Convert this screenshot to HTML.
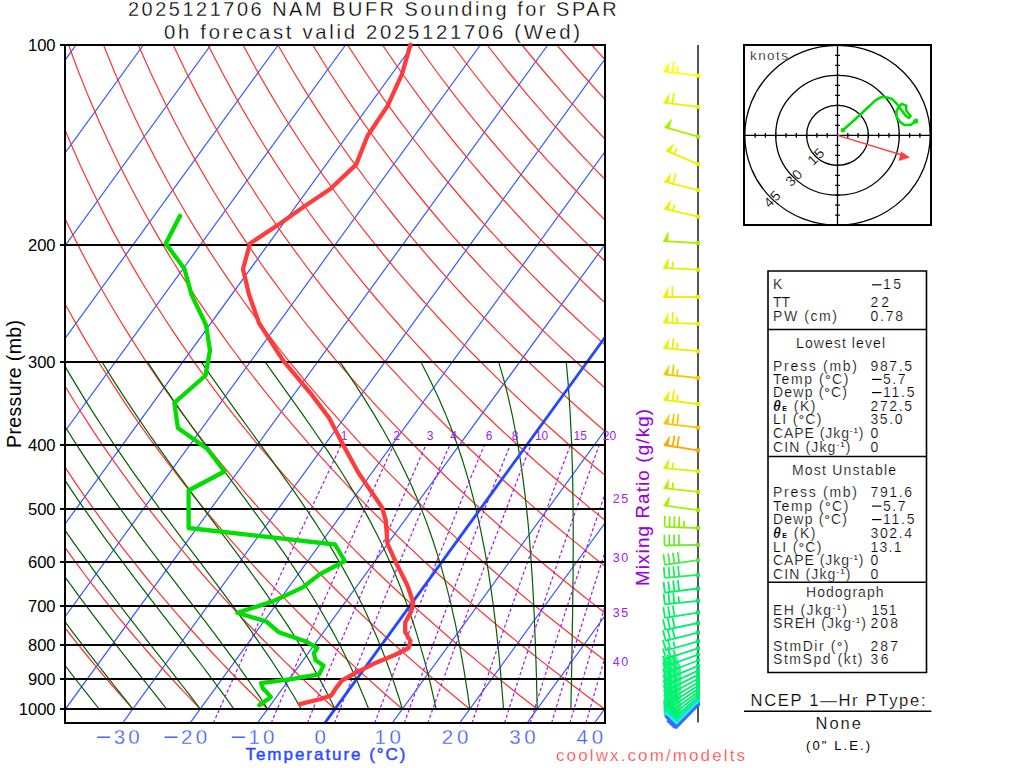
<!DOCTYPE html>
<html><head><meta charset="utf-8"><style>html,body{margin:0;padding:0;background:#fff;width:1024px;height:768px;overflow:hidden}svg{display:block}text{font-family:"Liberation Sans",sans-serif}</style></head>
<body><svg width="1024" height="768" viewBox="0 0 1024 768">
<rect width="1024" height="768" fill="#fff"/>
<defs><clipPath id="cb"><rect x="65" y="45" width="540" height="678"/></clipPath></defs>
<g clip-path="url(#cb)" fill="none">
<path d="M-416.6,723.1L76,45M-349.2,723.1L143.4,45M-281.8,723.1L210.8,45M-214.4,723.1L278.2,45M-147,723.1L345.6,45M-79.6,723.1L413,45M-12.2,723.1L480.4,45M55.2,723.1L547.8,45M122.6,723.1L615.2,45M190,723.1L682.6,45M257.4,723.1L750,45M324.8,723.1L817.4,45M392.2,723.1L884.8,45M459.6,723.1L952.2,45M527,723.1L1019.6,45M594.4,723.1L1087,45" stroke="#3658ff" stroke-width="1.2"/>
<path d="M132.8,709 126.3,701.7 119.7,694.2 113,686.5 106.2,678.6 99.3,670.5 92.4,662.1 85.3,653.5 78.2,644.6 70.9,635.5 63.6,626 56.1,616.3 48.5,606.1 40.8,595.7 33,584.8 25.1,573.5 17,561.7 8.8,549.4 0.4,536.6 -8.1,523.2 -16.8,509.1 -25.6,494.3 -34.6,478.7 -43.8,462.2 -53.2,444.8 -62.7,426.2 -72.4,406.3 -82.4,384.9 -92.5,361.8 -96.6,352 -100.8,341.9 -104.9,331.4 -109.1,320.5 -113.3,309.2 -117.6,297.5 -121.9,285.2 -126.1,272.4 -130.4,259 -134.8,244.9 -139.1,230.1 -143.4,214.5 -147.7,198 -152,180.5 -156.2,161.9 -160.4,142 -164.4,120.7 -168.3,97.6 -172.1,72.5 -175.6,45 M200.2,709 193.2,701.7 186.1,694.2 178.9,686.5 171.6,678.6 164.2,670.5 156.7,662.1 149.1,653.5 141.4,644.6 133.6,635.5 125.7,626 117.6,616.3 109.4,606.1 101.1,595.7 92.6,584.8 84,573.5 75.2,561.7 66.3,549.4 57.2,536.6 47.9,523.2 38.5,509.1 28.9,494.3 19,478.7 9,462.2 -1.3,444.8 -11.8,426.2 -22.5,406.3 -33.5,384.9 -44.8,361.8 -49.3,352 -53.9,341.9 -58.6,331.4 -63.3,320.5 -68,309.2 -72.8,297.5 -77.6,285.2 -82.4,272.4 -87.3,259 -92.2,244.9 -97.2,230.1 -102.1,214.5 -107.1,198 -112.1,180.5 -117,161.9 -122,142 -126.8,120.7 -131.6,97.6 -136.2,72.5 -140.7,45 M267.6,709 260.1,701.7 252.5,694.2 244.8,686.5 237,678.6 229.1,670.5 221.1,662.1 212.9,653.5 204.7,644.6 196.3,635.5 187.7,626 179.1,616.3 170.3,606.1 161.3,595.7 152.2,584.8 142.9,573.5 133.5,561.7 123.8,549.4 114,536.6 104,523.2 93.8,509.1 83.3,494.3 72.6,478.7 61.7,462.2 50.6,444.8 39.1,426.2 27.4,406.3 15.3,384.9 3,361.8 -2,352 -7.1,341.9 -12.2,331.4 -17.4,320.5 -22.7,309.2 -28,297.5 -33.3,285.2 -38.7,272.4 -44.2,259 -49.7,244.9 -55.3,230.1 -60.9,214.5 -66.5,198 -72.2,180.5 -77.9,161.9 -83.6,142 -89.2,120.7 -94.9,97.6 -100.4,72.5 -105.8,45 M335,709 327,701.7 318.9,694.2 310.7,686.5 302.4,678.6 294,670.5 285.4,662.1 276.7,653.5 267.9,644.6 258.9,635.5 249.8,626 240.5,616.3 231.1,606.1 221.5,595.7 211.8,584.8 201.8,573.5 191.7,561.7 181.4,549.4 170.8,536.6 160,523.2 149,509.1 137.8,494.3 126.3,478.7 114.5,462.2 102.4,444.8 90,426.2 77.3,406.3 64.2,384.9 50.8,361.8 45.3,352 39.7,341.9 34.1,331.4 28.4,320.5 22.7,309.2 16.8,297.5 10.9,285.2 5,272.4 -1.1,259 -7.2,244.9 -13.4,230.1 -19.6,214.5 -25.9,198 -32.3,180.5 -38.7,161.9 -45.1,142 -51.6,120.7 -58.1,97.6 -64.6,72.5 -70.9,45 M402.4,709 393.9,701.7 385.3,694.2 376.6,686.5 367.8,678.6 358.8,670.5 349.7,662.1 340.5,653.5 331.1,644.6 321.6,635.5 311.9,626 302,616.3 292,606.1 281.8,595.7 271.4,584.8 260.7,573.5 249.9,561.7 238.9,549.4 227.6,536.6 216.1,523.2 204.3,509.1 192.3,494.3 179.9,478.7 167.3,462.2 154.3,444.8 140.9,426.2 127.2,406.3 113.1,384.9 98.5,361.8 92.6,352 86.5,341.9 80.4,331.4 74.3,320.5 68,309.2 61.6,297.5 55.2,285.2 48.7,272.4 42.1,259 35.4,244.9 28.6,230.1 21.7,214.5 14.7,198 7.6,180.5 0.5,161.9 -6.7,142 -14,120.7 -21.4,97.6 -28.7,72.5 -36,45 M469.8,709 460.8,701.7 451.8,694.2 442.6,686.5 433.2,678.6 423.7,670.5 414.1,662.1 404.3,653.5 394.4,644.6 384.2,635.5 374,626 363.5,616.3 352.8,606.1 342,595.7 330.9,584.8 319.7,573.5 308.2,561.7 296.4,549.4 284.4,536.6 272.2,523.2 259.6,509.1 246.7,494.3 233.6,478.7 220,462.2 206.1,444.8 191.8,426.2 177.1,406.3 161.9,384.9 146.3,361.8 139.9,352 133.4,341.9 126.8,331.4 120.1,320.5 113.3,309.2 106.4,297.5 99.5,285.2 92.4,272.4 85.2,259 77.9,244.9 70.5,230.1 62.9,214.5 55.3,198 47.5,180.5 39.6,161.9 31.7,142 23.6,120.7 15.4,97.6 7.1,72.5 -1.2,45 M537.2,709 527.8,701.7 518.2,694.2 508.5,686.5 498.6,678.6 488.6,670.5 478.4,662.1 468.1,653.5 457.6,644.6 446.9,635.5 436,626 425,616.3 413.7,606.1 402.2,595.7 390.5,584.8 378.6,573.5 366.4,561.7 354,549.4 341.2,536.6 328.2,523.2 314.9,509.1 301.2,494.3 287.2,478.7 272.8,462.2 258,444.8 242.7,426.2 227,406.3 210.8,384.9 194,361.8 187.2,352 180.2,341.9 173.1,331.4 165.9,320.5 158.7,309.2 151.3,297.5 143.7,285.2 136.1,272.4 128.3,259 120.4,244.9 112.4,230.1 104.2,214.5 95.9,198 87.4,180.5 78.8,161.9 70.1,142 61.2,120.7 52.1,97.6 43,72.5 33.7,45 M604.6,709 594.7,701.7 584.6,694.2 574.4,686.5 564,678.6 553.5,670.5 542.8,662.1 531.9,653.5 520.8,644.6 509.6,635.5 498.1,626 486.4,616.3 474.6,606.1 462.5,595.7 450.1,584.8 437.5,573.5 424.6,561.7 411.5,549.4 398,536.6 384.3,523.2 370.1,509.1 355.7,494.3 340.8,478.7 325.6,462.2 309.8,444.8 293.7,426.2 276.9,406.3 259.7,384.9 241.8,361.8 234.5,352 227,341.9 219.5,331.4 211.8,320.5 204,309.2 196.1,297.5 188,285.2 179.8,272.4 171.4,259 162.9,244.9 154.3,230.1 145.5,214.5 136.5,198 127.3,180.5 118,161.9 108.5,142 98.8,120.7 88.9,97.6 78.8,72.5 68.6,45 M672,709 661.6,701.7 651,694.2 640.3,686.5 629.4,678.6 618.3,670.5 607.1,662.1 595.7,653.5 584,644.6 572.2,635.5 560.2,626 547.9,616.3 535.4,606.1 522.7,595.7 509.7,584.8 496.4,573.5 482.9,561.7 469,549.4 454.8,536.6 440.3,523.2 425.4,509.1 410.1,494.3 394.5,478.7 378.3,462.2 361.7,444.8 344.6,426.2 326.9,406.3 308.5,384.9 289.6,361.8 281.8,352 273.9,341.9 265.8,331.4 257.6,320.5 249.3,309.2 240.9,297.5 232.3,285.2 223.5,272.4 214.6,259 205.5,244.9 196.2,230.1 186.7,214.5 177.1,198 167.2,180.5 157.2,161.9 146.9,142 136.4,120.7 125.6,97.6 114.7,72.5 103.5,45 M739.4,709 728.5,701.7 717.4,694.2 706.2,686.5 694.8,678.6 683.2,670.5 671.4,662.1 659.5,653.5 647.3,644.6 634.9,635.5 622.3,626 609.4,616.3 596.3,606.1 582.9,595.7 569.3,584.8 555.3,573.5 541.1,561.7 526.5,549.4 511.6,536.6 496.4,523.2 480.7,509.1 464.6,494.3 448.1,478.7 431.1,462.2 413.6,444.8 395.5,426.2 376.8,406.3 357.4,384.9 337.3,361.8 329.1,352 320.7,341.9 312.2,331.4 303.5,320.5 294.7,309.2 285.7,297.5 276.5,285.2 267.2,272.4 257.7,259 248,244.9 238.1,230.1 228,214.5 217.7,198 207.1,180.5 196.3,161.9 185.3,142 174,120.7 162.4,97.6 150.5,72.5 138.3,45 M806.8,709 795.4,701.7 783.9,694.2 772.1,686.5 760.2,678.6 748.1,670.5 735.8,662.1 723.2,653.5 710.5,644.6 697.5,635.5 684.3,626 670.9,616.3 657.2,606.1 643.2,595.7 628.9,584.8 614.3,573.5 599.3,561.7 584.1,549.4 568.4,536.6 552.4,523.2 536,509.1 519.1,494.3 501.7,478.7 483.8,462.2 465.4,444.8 446.4,426.2 426.7,406.3 406.3,384.9 385.1,361.8 376.4,352 367.5,341.9 358.5,331.4 349.3,320.5 340,309.2 330.5,297.5 320.8,285.2 310.9,272.4 300.8,259 290.5,244.9 280,230.1 269.3,214.5 258.3,198 247,180.5 235.5,161.9 223.7,142 211.6,120.7 199.1,97.6 186.3,72.5 173.2,45 M874.2,709 862.3,701.7 850.3,694.2 838,686.5 825.6,678.6 813,670.5 800.1,662.1 787,653.5 773.7,644.6 760.2,635.5 746.4,626 732.4,616.3 718,606.1 703.4,595.7 688.5,584.8 673.2,573.5 657.6,561.7 641.6,549.4 625.2,536.6 608.5,523.2 591.2,509.1 573.6,494.3 555.4,478.7 536.6,462.2 517.3,444.8 497.3,426.2 476.6,406.3 455.1,384.9 432.8,361.8 423.7,352 414.3,341.9 404.8,331.4 395.2,320.5 385.3,309.2 375.3,297.5 365,285.2 354.6,272.4 343.9,259 333.1,244.9 321.9,230.1 310.5,214.5 298.9,198 286.9,180.5 274.7,161.9 262.1,142 249.2,120.7 235.9,97.6 222.2,72.5 208.1,45 M941.6,709 929.2,701.7 916.7,694.2 903.9,686.5 891,678.6 877.8,670.5 864.4,662.1 850.8,653.5 837,644.6 822.9,635.5 808.5,626 793.8,616.3 778.9,606.1 763.6,595.7 748,584.8 732.1,573.5 715.8,561.7 699.1,549.4 682,536.6 664.5,523.2 646.5,509.1 628,494.3 609,478.7 589.4,462.2 569.1,444.8 548.2,426.2 526.5,406.3 504,384.9 480.6,361.8 471,352 461.2,341.9 451.2,331.4 441,320.5 430.7,309.2 420.1,297.5 409.3,285.2 398.3,272.4 387.1,259 375.6,244.9 363.8,230.1 351.8,214.5 339.5,198 326.8,180.5 313.8,161.9 300.5,142 286.7,120.7 272.6,97.6 258,72.5 243,45 M1009,709 996.2,701.7 983.1,694.2 969.9,686.5 956.4,678.6 942.7,670.5 928.8,662.1 914.6,653.5 900.2,644.6 885.5,635.5 870.6,626 855.3,616.3 839.7,606.1 823.8,595.7 807.6,584.8 791,573.5 774.1,561.7 756.7,549.4 738.9,536.6 720.6,523.2 701.8,509.1 682.5,494.3 662.6,478.7 642.1,462.2 621,444.8 599.1,426.2 576.4,406.3 552.9,384.9 528.4,361.8 518.3,352 508,341.9 497.5,331.4 486.9,320.5 476,309.2 464.9,297.5 453.6,285.2 442,272.4 430.2,259 418.1,244.9 405.7,230.1 393.1,214.5 380.1,198 366.7,180.5 353,161.9 338.9,142 324.3,120.7 309.4,97.6 293.9,72.5 277.9,45 M1076.4,709 1063.1,701.7 1049.5,694.2 1035.8,686.5 1021.8,678.6 1007.6,670.5 993.1,662.1 978.4,653.5 963.4,644.6 948.2,635.5 932.6,626 916.8,616.3 900.6,606.1 884.1,595.7 867.2,584.8 849.9,573.5 832.3,561.7 814.2,549.4 795.7,536.6 776.6,523.2 757.1,509.1 737,494.3 716.3,478.7 694.9,462.2 672.8,444.8 650,426.2 626.3,406.3 601.7,384.9 576.1,361.8 565.6,352 554.8,341.9 543.9,331.4 532.7,320.5 521.3,309.2 509.7,297.5 497.8,285.2 485.7,272.4 473.3,259 460.6,244.9 447.7,230.1 434.3,214.5 420.7,198 406.6,180.5 392.2,161.9 377.3,142 361.9,120.7 346.1,97.6 329.7,72.5 312.7,45 M1143.8,709 1130,701.7 1115.9,694.2 1101.7,686.5 1087.2,678.6 1072.5,670.5 1057.5,662.1 1042.2,653.5 1026.7,644.6 1010.8,635.5 994.7,626 978.3,616.3 961.5,606.1 944.3,595.7 926.8,584.8 908.9,573.5 890.5,561.7 871.7,549.4 852.5,536.6 832.7,523.2 812.4,509.1 791.4,494.3 769.9,478.7 747.7,462.2 724.7,444.8 700.9,426.2 676.3,406.3 650.6,384.9 623.9,361.8 612.9,352 601.6,341.9 590.2,331.4 578.5,320.5 566.6,309.2 554.5,297.5 542.1,285.2 529.4,272.4 516.5,259 503.2,244.9 489.6,230.1 475.6,214.5 461.3,198 446.5,180.5 431.3,161.9 415.7,142 399.5,120.7 382.8,97.6 365.6,72.5 347.6,45 M1211.2,709 1196.9,701.7 1182.4,694.2 1167.6,686.5 1152.6,678.6 1137.3,670.5 1121.8,662.1 1106,653.5 1089.9,644.6 1073.5,635.5 1056.8,626 1039.7,616.3 1022.3,606.1 1004.5,595.7 986.4,584.8 967.8,573.5 948.8,561.7 929.3,549.4 909.3,536.6 888.7,523.2 867.6,509.1 845.9,494.3 823.5,478.7 800.4,462.2 776.6,444.8 751.8,426.2 726.2,406.3 699.5,384.9 671.6,361.8 660.2,352 648.5,341.9 636.5,331.4 624.4,320.5 612,309.2 599.3,297.5 586.4,285.2 573.1,272.4 559.6,259 545.7,244.9 531.5,230.1 516.9,214.5 501.9,198 486.4,180.5 470.5,161.9 454.1,142 437.1,120.7 419.6,97.6 401.4,72.5 382.5,45 M1278.6,709 1263.8,701.7 1248.8,694.2 1233.5,686.5 1218,678.6 1202.2,670.5 1186.1,662.1 1169.8,653.5 1153.1,644.6 1136.2,635.5 1118.9,626 1101.2,616.3 1083.2,606.1 1064.8,595.7 1046,584.8 1026.7,573.5 1007,561.7 986.8,549.4 966.1,536.6 944.8,523.2 922.9,509.1 900.4,494.3 877.2,478.7 853.2,462.2 828.4,444.8 802.7,426.2 776.1,406.3 748.3,384.9 719.4,361.8 707.5,352 695.3,341.9 682.9,331.4 670.2,320.5 657.3,309.2 644.1,297.5 630.6,285.2 616.8,272.4 602.7,259 588.2,244.9 573.4,230.1 558.1,214.5 542.4,198 526.3,180.5 509.7,161.9 492.5,142 474.7,120.7 456.3,97.6 437.2,72.5 417.4,45 M1346,709 1330.7,701.7 1315.2,694.2 1299.4,686.5 1283.4,678.6 1267.1,670.5 1250.5,662.1 1233.6,653.5 1216.4,644.6 1198.8,635.5 1180.9,626 1162.7,616.3 1144,606.1 1125,595.7 1105.5,584.8 1085.6,573.5 1065.2,561.7 1044.3,549.4 1022.9,536.6 1000.8,523.2 978.2,509.1 954.9,494.3 930.8,478.7 906,462.2 880.3,444.8 853.6,426.2 826,406.3 797.2,384.9 767.2,361.8 754.8,352 742.1,341.9 729.2,331.4 716.1,320.5 702.6,309.2 688.9,297.5 674.9,285.2 660.5,272.4 645.8,259 630.8,244.9 615.3,230.1 599.4,214.5 583,198 566.2,180.5 548.8,161.9 530.9,142 512.3,120.7 493.1,97.6 473.1,72.5 452.3,45 M1413.4,709 1397.6,701.7 1381.6,694.2 1365.3,686.5 1348.8,678.6 1331.9,670.5 1314.8,662.1 1297.4,653.5 1279.6,644.6 1261.5,635.5 1243,626 1224.2,616.3 1204.9,606.1 1185.2,595.7 1165.1,584.8 1144.5,573.5 1123.5,561.7 1101.9,549.4 1079.7,536.6 1056.9,523.2 1033.5,509.1 1009.3,494.3 984.4,478.7 958.7,462.2 932.1,444.8 904.6,426.2 875.9,406.3 846.1,384.9 814.9,361.8 802.1,352 788.9,341.9 775.6,331.4 761.9,320.5 748,309.2 733.7,297.5 719.2,285.2 704.2,272.4 689,259 673.3,244.9 657.2,230.1 640.7,214.5 623.6,198 606.1,180.5 588,161.9 569.3,142 549.9,120.7 529.8,97.6 508.9,72.5 487.1,45 M1480.8,709 1464.5,701.7 1448,694.2 1431.2,686.5 1414.2,678.6 1396.8,670.5 1379.1,662.1 1361.2,653.5 1342.8,644.6 1324.1,635.5 1305.1,626 1285.6,616.3 1265.8,606.1 1245.5,595.7 1224.7,584.8 1203.5,573.5 1181.7,561.7 1159.4,549.4 1136.5,536.6 1112.9,523.2 1088.7,509.1 1063.8,494.3 1038.1,478.7 1011.5,462.2 984,444.8 955.5,426.2 925.8,406.3 894.9,384.9 862.7,361.8 849.4,352 835.8,341.9 821.9,331.4 807.8,320.5 793.3,309.2 778.5,297.5 763.4,285.2 747.9,272.4 732.1,259 715.8,244.9 699.1,230.1 681.9,214.5 664.2,198 646,180.5 627.2,161.9 607.7,142 587.5,120.7 566.6,97.6 544.8,72.5 522,45 M1548.2,709 1531.5,701.7 1514.5,694.2 1497.2,686.5 1479.6,678.6 1461.7,670.5 1443.5,662.1 1424.9,653.5 1406.1,644.6 1386.8,635.5 1367.2,626 1347.1,616.3 1326.6,606.1 1305.7,595.7 1284.3,584.8 1262.4,573.5 1239.9,561.7 1216.9,549.4 1193.3,536.6 1169,523.2 1144,509.1 1118.3,494.3 1091.7,478.7 1064.3,462.2 1035.8,444.8 1006.4,426.2 975.7,406.3 943.8,384.9 910.4,361.8 896.7,352 882.6,341.9 868.3,331.4 853.6,320.5 838.6,309.2 823.3,297.5 807.7,285.2 791.7,272.4 775.2,259 758.3,244.9 741,230.1 723.2,214.5 704.8,198 685.9,180.5 666.3,161.9 646.1,142 625.1,120.7 603.3,97.6 580.6,72.5 556.9,45 M1615.6,709 1598.4,701.7 1580.9,694.2 1563.1,686.5 1545,678.6 1526.6,670.5 1507.8,662.1 1488.7,653.5 1469.3,644.6 1449.5,635.5 1429.2,626 1408.6,616.3 1387.5,606.1 1365.9,595.7 1343.9,584.8 1321.3,573.5 1298.2,561.7 1274.4,549.4 1250.1,536.6 1225,523.2 1199.3,509.1 1172.7,494.3 1145.3,478.7 1117,462.2 1087.7,444.8 1057.3,426.2 1025.6,406.3 992.7,384.9 958.2,361.8 944,352 929.4,341.9 914.6,331.4 899.5,320.5 884,309.2 868.2,297.5 852,285.2 835.4,272.4 818.3,259 800.9,244.9 782.9,230.1 764.5,214.5 745.4,198 725.8,180.5 705.5,161.9 684.5,142 662.7,120.7 640.1,97.6 616.5,72.5 591.8,45" stroke="#ff3030" stroke-width="1.2"/>
<path d="M65.4,709 60.8,703.2 56.2,697.2 51.5,691.2 46.7,685 41.9,678.6 37,672.1 32,665.5 27,658.7 21.9,651.8 16.7,644.6 11.5,637.3 6.1,629.9 0.8,622.2 -4.7,614.3 -10.2,606.1 -15.8,597.8 -21.5,589.2 -27.2,580.3 -33,571.1 -38.9,561.7 -44.9,551.9 -51,541.8 -57.1,531.3 -63.3,520.4 -69.6,509.1 -76,497.3 -82.5,485.1 -89.1,472.3 -95.8,458.8 -102.5,444.8 -109.4,430 -116.4,414.4 -123.4,397.9 -130.5,380.4 -137.8,361.8 M99.1,709 94.5,703.2 89.8,697.2 85,691.2 80.1,685 75.1,678.6 70.1,672.1 65,665.5 59.8,658.7 54.6,651.8 49.2,644.6 43.8,637.3 38.3,629.9 32.7,622.2 27.1,614.3 21.3,606.1 15.5,597.8 9.6,589.2 3.6,580.3 -2.5,571.1 -8.6,561.7 -14.9,551.9 -21.2,541.8 -27.7,531.3 -34.2,520.4 -40.8,509.1 -47.5,497.3 -54.4,485.1 -61.3,472.3 -68.3,458.8 -75.5,444.8 -82.7,430 -90.1,414.4 -97.6,397.9 -105.1,380.4 -112.8,361.8 M132.8,709 128.2,703.2 123.4,697.2 118.6,691.2 113.7,685 108.7,678.6 103.6,672.1 98.4,665.5 93.1,658.7 87.7,651.8 82.3,644.6 76.7,637.3 71,629.9 65.3,622.2 59.4,614.3 53.5,606.1 47.4,597.8 41.3,589.2 35.1,580.3 28.8,571.1 22.3,561.7 15.8,551.9 9.2,541.8 2.4,531.3 -4.4,520.4 -11.4,509.1 -18.4,497.3 -25.6,485.1 -32.9,472.3 -40.3,458.8 -47.8,444.8 -55.5,430 -63.2,414.4 -71.1,397.9 -79.2,380.4 -87.3,361.8 M166.5,709 161.9,703.2 157.3,697.2 152.5,691.2 147.6,685 142.6,678.6 137.5,672.1 132.2,665.5 126.9,658.7 121.5,651.8 115.9,644.6 110.2,637.3 104.5,629.9 98.6,622.2 92.6,614.3 86.5,606.1 80.2,597.8 73.9,589.2 67.4,580.3 60.9,571.1 54.2,561.7 47.4,551.9 40.5,541.8 33.5,531.3 26.3,520.4 19,509.1 11.7,497.3 4.1,485.1 -3.5,472.3 -11.3,458.8 -19.2,444.8 -27.3,430 -35.5,414.4 -43.9,397.9 -52.4,380.4 -61,361.8 M200.2,709 195.8,703.2 191.3,697.2 186.6,691.2 181.8,685 176.9,678.6 171.9,672.1 166.7,665.5 161.4,658.7 156,651.8 150.4,644.6 144.7,637.3 138.9,629.9 132.9,622.2 126.8,614.3 120.5,606.1 114.2,597.8 107.7,589.2 101,580.3 94.3,571.1 87.4,561.7 80.3,551.9 73.1,541.8 65.8,531.3 58.4,520.4 50.8,509.1 43.1,497.3 35.2,485.1 27.2,472.3 19,458.8 10.6,444.8 2.2,430 -6.5,414.4 -15.3,397.9 -24.3,380.4 -33.5,361.8 M233.9,709 229.7,703.2 225.5,697.2 221,691.2 216.5,685 211.8,678.6 206.9,672.1 201.9,665.5 196.7,658.7 191.4,651.8 185.9,644.6 180.3,637.3 174.5,629.9 168.5,622.2 162.4,614.3 156.1,606.1 149.7,597.8 143.1,589.2 136.3,580.3 129.4,571.1 122.3,561.7 115,551.9 107.6,541.8 100,531.3 92.3,520.4 84.4,509.1 76.3,497.3 68.1,485.1 59.7,472.3 51.1,458.8 42.4,444.8 33.4,430 24.3,414.4 15,397.9 5.5,380.4 -4.2,361.8 M267.6,709 263.8,703.2 259.9,697.2 255.8,691.2 251.6,685 247.2,678.6 242.6,672.1 237.9,665.5 233,658.7 227.9,651.8 222.6,644.6 217.2,637.3 211.6,629.9 205.8,622.2 199.7,614.3 193.5,606.1 187.1,597.8 180.5,589.2 173.7,580.3 166.7,571.1 159.5,561.7 152.1,551.9 144.5,541.8 136.7,531.3 128.7,520.4 120.5,509.1 112.1,497.3 103.6,485.1 94.8,472.3 85.8,458.8 76.6,444.8 67.2,430 57.6,414.4 47.8,397.9 37.7,380.4 27.4,361.8 M301.3,709 297.9,703.2 294.5,697.2 290.8,691.2 287,685 283.1,678.6 279,672.1 274.7,665.5 270.2,658.7 265.5,651.8 260.6,644.6 255.5,637.3 250.3,629.9 244.7,622.2 239,614.3 233,606.1 226.8,597.8 220.4,589.2 213.7,580.3 206.8,571.1 199.6,561.7 192.2,551.9 184.5,541.8 176.6,531.3 168.5,520.4 160,509.1 151.4,497.3 142.5,485.1 133.3,472.3 124,458.8 114.3,444.8 104.5,430 94.3,414.4 83.9,397.9 73.3,380.4 62.4,361.8 M335,709 332.2,703.2 329.2,697.2 326.1,691.2 322.8,685 319.4,678.6 315.8,672.1 312.1,665.5 308.2,658.7 304.1,651.8 299.7,644.6 295.2,637.3 290.5,629.9 285.5,622.2 280.2,614.3 274.7,606.1 269,597.8 262.9,589.2 256.6,580.3 250,571.1 243.1,561.7 235.8,551.9 228.3,541.8 220.4,531.3 212.3,520.4 203.8,509.1 195,497.3 185.9,485.1 176.5,472.3 166.7,458.8 156.7,444.8 146.3,430 135.7,414.4 124.7,397.9 113.4,380.4 101.9,361.8 M368.7,709 366.4,703.2 364,697.2 361.4,691.2 358.8,685 356,678.6 353.1,672.1 350,665.5 346.7,658.7 343.3,651.8 339.7,644.6 335.8,637.3 331.8,629.9 327.5,622.2 323,614.3 318.2,606.1 313.2,597.8 307.8,589.2 302.2,580.3 296.2,571.1 289.9,561.7 283.2,551.9 276.1,541.8 268.6,531.3 260.8,520.4 252.5,509.1 243.9,497.3 234.8,485.1 225.3,472.3 215.4,458.8 205.1,444.8 194.3,430 183.2,414.4 171.7,397.9 159.7,380.4 147.4,361.8 M402.4,709 400.6,703.2 398.8,697.2 396.8,691.2 394.8,685 392.6,678.6 390.4,672.1 388,665.5 385.4,658.7 382.7,651.8 379.9,644.6 376.9,637.3 373.7,629.9 370.3,622.2 366.7,614.3 362.8,606.1 358.7,597.8 354.3,589.2 349.7,580.3 344.6,571.1 339.3,561.7 333.5,551.9 327.4,541.8 320.8,531.3 313.8,520.4 306.2,509.1 298.2,497.3 289.6,485.1 280.5,472.3 270.9,458.8 260.6,444.8 249.8,430 238.5,414.4 226.6,397.9 214.1,380.4 201.1,361.8 M436.1,709 434.8,703.2 433.5,697.2 432.1,691.2 430.7,685 429.1,678.6 427.5,672.1 425.8,665.5 424,658.7 422,651.8 420,644.6 417.8,637.3 415.5,629.9 413,622.2 410.3,614.3 407.5,606.1 404.5,597.8 401.2,589.2 397.7,580.3 393.9,571.1 389.8,561.7 385.4,551.9 380.6,541.8 375.3,531.3 369.7,520.4 363.5,509.1 356.8,497.3 349.5,485.1 341.6,472.3 332.9,458.8 323.6,444.8 313.5,430 302.6,414.4 290.8,397.9 278.3,380.4 265,361.8 M469.8,709 469,703.2 468.2,697.2 467.3,691.2 466.3,685 465.3,678.6 464.3,672.1 463.2,665.5 462,658.7 460.8,651.8 459.5,644.6 458.1,637.3 456.6,629.9 455,622.2 453.2,614.3 451.4,606.1 449.4,597.8 447.2,589.2 444.9,580.3 442.4,571.1 439.6,561.7 436.6,551.9 433.3,541.8 429.7,531.3 425.8,520.4 421.4,509.1 416.6,497.3 411.3,485.1 405.3,472.3 398.7,458.8 391.4,444.8 383.2,430 374,414.4 363.8,397.9 352.5,380.4 340,361.8 M503.5,709 503.1,703.2 502.6,697.2 502.1,691.2 501.6,685 501.1,678.6 500.5,672.1 499.9,665.5 499.3,658.7 498.6,651.8 497.9,644.6 497.1,637.3 496.3,629.9 495.4,622.2 494.4,614.3 493.4,606.1 492.2,597.8 491,589.2 489.7,580.3 488.3,571.1 486.7,561.7 485,551.9 483,541.8 480.9,531.3 478.6,520.4 476,509.1 473.1,497.3 469.9,485.1 466.2,472.3 462,458.8 457.3,444.8 451.9,430 445.7,414.4 438.6,397.9 430.3,380.4 420.8,361.8 M537.2,709 537.1,703.2 536.9,697.2 536.8,691.2 536.6,685 536.5,678.6 536.3,672.1 536.1,665.5 535.9,658.7 535.6,651.8 535.4,644.6 535.1,637.3 534.8,629.9 534.5,622.2 534.2,614.3 533.8,606.1 533.4,597.8 532.9,589.2 532.4,580.3 531.8,571.1 531.2,561.7 530.5,551.9 529.7,541.8 528.8,531.3 527.8,520.4 526.6,509.1 525.3,497.3 523.8,485.1 522.1,472.3 520.2,458.8 517.9,444.8 515.2,430 512.1,414.4 508.4,397.9 504,380.4 498.7,361.8 M570.9,709 571,703.2 571.1,697.2 571.2,691.2 571.4,685 571.5,678.6 571.6,672.1 571.7,665.5 571.8,658.7 572,651.8 572.1,644.6 572.2,637.3 572.3,629.9 572.4,622.2 572.6,614.3 572.7,606.1 572.8,597.8 572.9,589.2 573,580.3 573.1,571.1 573.1,561.7 573.2,551.9 573.2,541.8 573.2,531.3 573.2,520.4 573.1,509.1 572.9,497.3 572.8,485.1 572.5,472.3 572.1,458.8 571.7,444.8 571,430 570.2,414.4 569.2,397.9 567.9,380.4 566.2,361.8" stroke="#006000" stroke-width="1.2"/>
<path d="M213.3,723.1 219.6,709 233.2,678.6 248.6,644.6 266.2,606.1 286.6,561.7 311.1,509.1 325.3,478.7 341.3,444.8 M271.2,723.1 277.2,709 290.2,678.6 304.8,644.6 321.6,606.1 341.2,561.7 364.6,509.1 378.3,478.7 393.7,444.8 M307.4,723.1 313.1,709 325.5,678.6 339.7,644.6 356,606.1 375,561.7 397.8,509.1 411,478.7 426,444.8 M334.5,723.1 340,709 352,678.6 365.7,644.6 381.3,606.1 399.8,561.7 422.1,509.1 435.1,478.7 449.8,444.8 M374.7,723.1 379.9,709 391.4,678.6 404.3,644.6 419.1,606.1 436.6,561.7 457.9,509.1 470.3,478.7 484.5,444.8 M404.3,723.1 409.4,709 420.4,678.6 433,644.6 447.4,606.1 464.3,561.7 484.6,509.1 496.6,478.7 510.3,444.8 M427.8,723.1 432.8,709 443.6,678.6 455.8,644.6 469.8,606.1 486.3,561.7 506.2,509.1 517.8,478.7 531,444.8 M472,723.1 476.7,709 486.9,678.6 498.6,644.6 511.9,606.1 527.7,561.7 546.7,509.1 557.8,478.7 570.5,444.8 M504.5,723.1 509,709 518.8,678.6 529.9,644.6 542.8,606.1 558,561.7 576.3,509.1 587.1,478.7 599.3,444.8 M530.2,723.1 534.6,709 544,678.6 554.8,644.6 567.3,606.1 582,561.7 599.8,509.1 610.3,478.7 622.2,444.8 M551.6,723.1 555.8,709 565,678.6 575.5,644.6 587.6,606.1 601.9,561.7 619.3,509.1 629.6,478.7 641.2,444.8 M569.9,723.1 574,709 583,678.6 593.2,644.6 605,606.1 619,561.7 636,509.1 646,478.7 657.4,444.8 M586,723.1 590,709 598.7,678.6 608.7,644.6 620.2,606.1 633.9,561.7 650.6,509.1 660.4,478.7 671.6,444.8" stroke="#a41ee6" stroke-width="1.25" stroke-dasharray="3.2,2.4"/>
<path d="M322.8,725.8L672.2,244.9" stroke="#2548ff" stroke-width="2.9"/>
</g>
<path d="M60,45H605M60,245H605M60,362H605M60,445H605M60,509H605M60,562H605M60,606H605M60,645H605M60,679H605M60,709H605" stroke="#000" stroke-width="2" fill="none"/>
<rect x="65" y="45" width="540" height="678" stroke="#000" stroke-width="2" fill="none"/>
<text x="128" y="16.1" font-size="19.9" fill="#000" textLength="488.5" lengthAdjust="spacing" stroke="#fff" stroke-width="0.3">2025121706 NAM BUFR Sounding for SPAR</text>
<text x="164" y="38.6" font-size="20.3" fill="#000" textLength="416" lengthAdjust="spacing" stroke="#fff" stroke-width="0.3">0h forecast valid 2025121706 (Wed)</text>
<text x="55.6" y="51.1" font-size="16.6" fill="#000" text-anchor="end">100</text>
<text x="55.6" y="251.1" font-size="16.6" fill="#000" text-anchor="end">200</text>
<text x="55.6" y="368.1" font-size="16.6" fill="#000" text-anchor="end">300</text>
<text x="55.6" y="451.1" font-size="16.6" fill="#000" text-anchor="end">400</text>
<text x="55.6" y="515.1" font-size="16.6" fill="#000" text-anchor="end">500</text>
<text x="55.6" y="568.1" font-size="16.6" fill="#000" text-anchor="end">600</text>
<text x="55.6" y="612.1" font-size="16.6" fill="#000" text-anchor="end">700</text>
<text x="55.6" y="651.1" font-size="16.6" fill="#000" text-anchor="end">800</text>
<text x="55.6" y="685.1" font-size="16.6" fill="#000" text-anchor="end">900</text>
<text x="55.6" y="715.1" font-size="16.6" fill="#000" text-anchor="end">1000</text>
<text x="0" y="0" font-size="19.5" fill="#000" transform="translate(21,384) rotate(-90)" text-anchor="middle" textLength="128" lengthAdjust="spacing">Pressure (mb)</text>
<path d="M97.1,737.2h13" stroke="#3355ff" stroke-width="1.4"/>
<text x="113.7" y="743.5" font-size="20.5" fill="#3355ff" stroke="#fff" stroke-width="0.35" textLength="26" lengthAdjust="spacing">30</text>
<path d="M164.5,737.2h13" stroke="#3355ff" stroke-width="1.4"/>
<text x="181.1" y="743.5" font-size="20.5" fill="#3355ff" stroke="#fff" stroke-width="0.35" textLength="26" lengthAdjust="spacing">20</text>
<path d="M231.9,737.2h13" stroke="#3355ff" stroke-width="1.4"/>
<text x="248.5" y="743.5" font-size="20.5" fill="#3355ff" stroke="#fff" stroke-width="0.35" textLength="26" lengthAdjust="spacing">10</text>
<text x="320.3" y="743.5" font-size="20.5" fill="#3355ff" stroke="#fff" stroke-width="0.35" text-anchor="middle">0</text>
<text x="374.4" y="743.5" font-size="20.5" fill="#3355ff" stroke="#fff" stroke-width="0.35" textLength="26.5" lengthAdjust="spacing">10</text>
<text x="441.8" y="743.5" font-size="20.5" fill="#3355ff" stroke="#fff" stroke-width="0.35" textLength="26.5" lengthAdjust="spacing">20</text>
<text x="509.2" y="743.5" font-size="20.5" fill="#3355ff" stroke="#fff" stroke-width="0.35" textLength="26.5" lengthAdjust="spacing">30</text>
<text x="576.6" y="743.5" font-size="20.5" fill="#3355ff" stroke="#fff" stroke-width="0.35" textLength="26.5" lengthAdjust="spacing">40</text>
<text x="245.5" y="759.8" font-size="17" fill="#2a4cff" stroke="#2a4cff" stroke-width="0.45" textLength="160" lengthAdjust="spacing">Temperature (°C)</text>
<text x="556" y="761" font-size="17" fill="#ff4040" stroke="#fff" stroke-width="0.25" textLength="189" lengthAdjust="spacing">coolwx.com/modelts</text>
<text x="344" y="439.5" font-size="12" fill="#a020f0" text-anchor="middle">1</text>
<text x="396.7" y="439.5" font-size="12" fill="#a020f0" text-anchor="middle">2</text>
<text x="430" y="439.5" font-size="12" fill="#a020f0" text-anchor="middle">3</text>
<text x="453.7" y="439.5" font-size="12" fill="#a020f0" text-anchor="middle">4</text>
<text x="489.2" y="439.5" font-size="12" fill="#a020f0" text-anchor="middle">6</text>
<text x="515.2" y="439.5" font-size="12" fill="#a020f0" text-anchor="middle">8</text>
<text x="541.6" y="439.5" font-size="12" fill="#a020f0" text-anchor="middle">10</text>
<text x="580.2" y="439.5" font-size="12" fill="#a020f0" text-anchor="middle">15</text>
<text x="609.4" y="439.5" font-size="12" fill="#a020f0" text-anchor="middle">20</text>
<text x="620.5" y="503.1" font-size="12.5" fill="#a020f0" text-anchor="middle" textLength="15.5" lengthAdjust="spacing">25</text>
<text x="620.5" y="562.3" font-size="12.5" fill="#a020f0" text-anchor="middle" textLength="15.5" lengthAdjust="spacing">30</text>
<text x="620.5" y="617.1" font-size="12.5" fill="#a020f0" text-anchor="middle" textLength="15.5" lengthAdjust="spacing">35</text>
<text x="620.5" y="666.4" font-size="12.5" fill="#a020f0" text-anchor="middle" textLength="15.5" lengthAdjust="spacing">40</text>
<text x="0" y="0" font-size="18.7" fill="#9c00d8" stroke="#9c00d8" stroke-width="0.15" transform="translate(648.8,497.5) rotate(-90)" text-anchor="middle" textLength="177" lengthAdjust="spacing">Mixing Ratio (g/kg)</text>
<polyline points="180.1,215.8 165.8,243.5 184.4,268.8 191.5,294.6 206,325 210,350.4 205.5,375.5 174.3,402.9 177.9,427.9 207.2,448.7 224.4,471.5 188.6,490.5 188.6,528 335,544.5 344.8,561 320.4,573.8 302.8,587.4 273.5,601.1 237.4,612.8 266.4,621.6 278.7,632.2 306.8,641.8 317.3,648 313.8,653.3 315.6,660.3 323.5,665.6 319.1,674.4 292.7,678.8 261.1,683.1 262.8,688.4 266.4,691.9 270.8,697.2 264.6,701.6 259.3,705.1" fill="none" stroke="#00dd00" stroke-width="4.3" stroke-linejoin="round" stroke-linecap="round"/>
<polyline points="410.5,44.6 401.9,74.4 387.6,105.9 367.5,136 356.1,164.6 330.3,189 304.5,206.2 281.6,222.5 250,243.5 243,269 249,294.5 259,323 283,360.3 311.7,394.7 328.9,417.6 343.2,444.9 358.4,472.8 382,507.4 385.7,520.2 387.5,543.9 396.6,563.9 407.6,585.8 413.1,602.3 411.4,611.1 405.2,622.5 405.2,632.2 410.5,641 408.7,648 394.7,655 373.6,663.8 356,672.6 341.9,680.5 335.8,688.4 331.4,695.4 320.8,699 299.8,704.2" fill="none" stroke="#ff3c3c" stroke-width="4.3" stroke-linejoin="round" stroke-linecap="round"/>
<path d="M698,45V722.5" stroke="#555" stroke-width="2"/>
<path d="M663,658L676,654L681,668L681,712L676.5,727L664.5,716.5Z" fill="#00f070" fill-opacity="0.75"/>
<path d="M698,75.6L663.7,71.4M672.6,72.5L673.9,61.8M677.2,73L677.9,66.6" stroke="#ffff00" stroke-width="1.8" fill="none"/>
<path d="M663.7,71.4L668.1,71.9L669.3,62.5Z" fill="#ffff00" stroke="#ffff00" stroke-width="0.6"/>
<rect x="696" y="73.6" width="4" height="4" fill="#ffff00"/>
<path d="M698,106.9L663.7,102.7M672.6,103.8L673.9,93.1" stroke="#eef000" stroke-width="1.8" fill="none"/>
<path d="M663.7,102.7L668.1,103.2L669.3,93.8Z" fill="#eef000" stroke="#eef000" stroke-width="0.6"/>
<rect x="696" y="104.9" width="4" height="4" fill="#eef000"/>
<path d="M698,136.6L664.7,127.1" stroke="#a8f000" stroke-width="1.8" fill="none"/>
<path d="M664.7,127.1L669.1,128.3L671.7,119.2Z" fill="#a8f000" stroke="#a8f000" stroke-width="0.6"/>
<rect x="696" y="134.6" width="4" height="4" fill="#a8f000"/>
<path d="M698,164.1L666.2,150.6M674.4,154.1L677,148.1" stroke="#eef000" stroke-width="1.8" fill="none"/>
<path d="M666.2,150.6L670.3,152.3L674,143.6Z" fill="#eef000" stroke="#eef000" stroke-width="0.6"/>
<rect x="696" y="162.1" width="4" height="4" fill="#eef000"/>
<path d="M698,190.1L664.4,181.7M673.2,183.9L675.8,173.4" stroke="#eef000" stroke-width="1.8" fill="none"/>
<path d="M664.4,181.7L668.8,182.8L671.1,173.6Z" fill="#eef000" stroke="#eef000" stroke-width="0.6"/>
<rect x="696" y="188.1" width="4" height="4" fill="#eef000"/>
<path d="M698,216.6L664.3,208.8M673.1,210.8L674.5,204.5" stroke="#eef000" stroke-width="1.8" fill="none"/>
<path d="M664.3,208.8L668.7,209.8L670.8,200.6Z" fill="#eef000" stroke="#eef000" stroke-width="0.6"/>
<rect x="696" y="214.6" width="4" height="4" fill="#eef000"/>
<path d="M698,243L663.4,241.2" stroke="#a8f000" stroke-width="1.8" fill="none"/>
<path d="M663.4,241.2L667.9,241.4L668.4,231.9Z" fill="#a8f000" stroke="#a8f000" stroke-width="0.6"/>
<rect x="696" y="241" width="4" height="4" fill="#a8f000"/>
<path d="M698,269.7L663.4,267.9M672.4,268.4L672.8,261.9" stroke="#def000" stroke-width="1.8" fill="none"/>
<path d="M663.4,267.9L667.9,268.1L668.4,258.6Z" fill="#def000" stroke="#def000" stroke-width="0.6"/>
<rect x="696" y="267.7" width="4" height="4" fill="#def000"/>
<path d="M698,297L663.4,297M672.4,297L672.4,286.2" stroke="#eef000" stroke-width="1.8" fill="none"/>
<path d="M663.4,297L667.9,297L667.9,287.5Z" fill="#eef000" stroke="#eef000" stroke-width="0.6"/>
<rect x="696" y="295" width="4" height="4" fill="#eef000"/>
<path d="M698,323.8L663.4,322.6M672.4,322.9L672.8,312.1M677,323.1L677.2,316.6" stroke="#eef000" stroke-width="1.8" fill="none"/>
<path d="M663.4,322.6L667.9,322.7L668.2,313.3Z" fill="#eef000" stroke="#eef000" stroke-width="0.6"/>
<rect x="696" y="321.8" width="4" height="4" fill="#eef000"/>
<path d="M698,351.2L663.5,348.2M672.5,349L673.4,338.2M677.1,349.4L677.6,342.9" stroke="#eef000" stroke-width="1.8" fill="none"/>
<path d="M663.5,348.2L668,348.6L668.8,339.1Z" fill="#eef000" stroke="#eef000" stroke-width="0.6"/>
<rect x="696" y="349.2" width="4" height="4" fill="#eef000"/>
<path d="M698,378L663.6,374.4M672.5,375.3L673.7,364.6M677.1,375.8L677.8,369.3" stroke="#f8c800" stroke-width="1.8" fill="none"/>
<path d="M663.6,374.4L668.1,374.9L669.1,365.4Z" fill="#f8c800" stroke="#f8c800" stroke-width="0.6"/>
<rect x="696" y="376" width="4" height="4" fill="#f8c800"/>
<path d="M698,404L663.7,399.8M672.6,400.9L673.9,390.2M677.2,401.4L677.9,395" stroke="#eef000" stroke-width="1.8" fill="none"/>
<path d="M663.7,399.8L668.1,400.3L669.3,390.9Z" fill="#eef000" stroke="#eef000" stroke-width="0.6"/>
<rect x="696" y="402" width="4" height="4" fill="#eef000"/>
<path d="M698,427.6L663.7,423.4M672.6,424.5L673.9,413.8M677.2,425L678.5,414.3" stroke="#fcc400" stroke-width="1.8" fill="none"/>
<path d="M663.7,423.4L668.1,423.9L669.3,414.5Z" fill="#fcc400" stroke="#fcc400" stroke-width="0.6"/>
<rect x="696" y="425.6" width="4" height="4" fill="#fcc400"/>
<path d="M698,450.4L663.8,445M672.7,446.4L674.4,435.7M677.3,447.1L678.9,436.4" stroke="#ffa800" stroke-width="1.8" fill="none"/>
<path d="M663.8,445L668.3,445.7L669.8,436.3Z" fill="#ffa800" stroke="#ffa800" stroke-width="0.6"/>
<rect x="696" y="448.4" width="4" height="4" fill="#ffa800"/>
<path d="M698,471.2L663.5,468.2M672.5,469L673.1,462.5" stroke="#def000" stroke-width="1.8" fill="none"/>
<path d="M663.5,468.2L668,468.6L668.8,459.1Z" fill="#def000" stroke="#def000" stroke-width="0.6"/>
<rect x="696" y="469.2" width="4" height="4" fill="#def000"/>
<path d="M698,491.8L663.6,488.2M672.5,489.1L673.2,482.7" stroke="#b8f000" stroke-width="1.8" fill="none"/>
<path d="M663.6,488.2L668.1,488.7L669.1,479.2Z" fill="#b8f000" stroke="#b8f000" stroke-width="0.6"/>
<rect x="696" y="489.8" width="4" height="4" fill="#b8f000"/>
<path d="M698,510.2L663.7,505.4" stroke="#a8f000" stroke-width="1.8" fill="none"/>
<path d="M663.7,505.4L668.2,506L669.5,496.6Z" fill="#a8f000" stroke="#a8f000" stroke-width="0.6"/>
<rect x="696" y="508.2" width="4" height="4" fill="#a8f000"/>
<path d="M698,528L664.6,526.8M664.6,526.8L665,516M669.4,527L669.8,516.2M674.2,527.2L674.6,516.4M679,527.3L679.4,516.5M683.8,527.5L684,521" stroke="#90ec10" stroke-width="1.8" fill="none"/>
<rect x="696" y="526" width="4" height="4" fill="#90ec10"/>
<path d="M698,544.9L664.6,545.5M664.6,545.5L664.4,534.7M669.4,545.4L669.2,534.6M674.2,545.3L674,534.5M679,545.2L678.8,534.4" stroke="#70e830" stroke-width="1.8" fill="none"/>
<rect x="696" y="542.9" width="4" height="4" fill="#70e830"/>
<path d="M698,560.2L664.9,564.8M664.9,564.8L663.4,554.2M669.7,564.2L668.2,553.5M674.4,563.5L672.9,552.8M679.2,562.8L677.7,552.1" stroke="#50e848" stroke-width="1.8" fill="none"/>
<rect x="696" y="558.2" width="4" height="4" fill="#50e848"/>
<path d="M698,574.9L664.7,577.8M664.7,577.8L663.8,567.1M669.5,577.4L668.6,566.6M674.3,577L673.3,566.2M679.1,576.6L678.1,565.8" stroke="#20ee60" stroke-width="1.8" fill="none"/>
<rect x="696" y="572.9" width="4" height="4" fill="#20ee60"/>
<path d="M698,588.5L664.8,592.6M664.8,592.6L663.5,581.9M669.6,592L668.3,581.3M674.4,591.4L673.1,580.7M679.1,590.8L677.8,580.1" stroke="#00f060" stroke-width="1.8" fill="none"/>
<rect x="696" y="586.5" width="4" height="4" fill="#00f060"/>
<path d="M698,600.8L664.8,604.3M664.8,604.3L663.7,593.6M669.6,603.8L668.4,593M674.3,603.3L673.2,592.5M679.1,602.8L678.4,596.3" stroke="#00f060" stroke-width="1.8" fill="none"/>
<rect x="696" y="598.8" width="4" height="4" fill="#00f060"/>
<path d="M698,612.6L665,617.8M665,617.8L663.3,607.2M669.8,617.1L668.1,606.4M674.5,616.3L672.8,605.7" stroke="#00f068" stroke-width="1.8" fill="none"/>
<rect x="696" y="610.6" width="4" height="4" fill="#00f068"/>
<path d="M698,623L665.3,629.9M665.3,629.9L663.1,619.4M670,628.9L667.8,618.4M674.7,627.9L672.5,617.4" stroke="#00f068" stroke-width="1.8" fill="none"/>
<rect x="696" y="621" width="4" height="4" fill="#00f068"/>
<path d="M698,632.7L665.6,640.8M665.6,640.8L663,630.3M670.2,639.6L667.6,629.1M674.9,638.5L672.3,628" stroke="#00f068" stroke-width="1.8" fill="none"/>
<rect x="696" y="630.7" width="4" height="4" fill="#00f068"/>
<path d="M698,641.3L665.9,650.5M665.9,650.5L662.9,640.1M670.5,649.2L667.5,638.8M675.1,647.9L673.3,641.6" stroke="#00f068" stroke-width="1.8" fill="none"/>
<rect x="696" y="639.3" width="4" height="4" fill="#00f068"/>
<path d="M698,648.4L666.2,658.7M666.2,658.7L662.9,648.4M670.8,657.2L667.5,647M675.4,655.8L673.4,649.6" stroke="#00f068" stroke-width="1.8" fill="none"/>
<rect x="696" y="646.4" width="4" height="4" fill="#00f068"/>
<path d="M698,654.6L666.6,666M666.6,666L662.9,655.9M671.1,664.4L667.4,654.2M675.6,662.7L673.4,656.6" stroke="#00f070" stroke-width="1.8" fill="none"/>
<rect x="696" y="652.6" width="4" height="4" fill="#00f070"/>
<path d="M698,660.5L666.8,672.5M666.8,672.5L662.9,662.4M671.3,670.7L667.4,660.7M675.8,669L673.5,663" stroke="#00f070" stroke-width="1.8" fill="none"/>
<rect x="696" y="658.5" width="4" height="4" fill="#00f070"/>
<path d="M698,665.9L667.2,678.9M667.2,678.9L663,668.9M671.7,677L667.5,667.1M676.1,675.2L673.5,669.2" stroke="#00f070" stroke-width="1.8" fill="none"/>
<rect x="696" y="663.9" width="4" height="4" fill="#00f070"/>
<path d="M698,670.6L667.7,684.6M667.7,684.6L663.2,674.8M672,682.6L667.5,672.8M676.4,680.6L673.7,674.7" stroke="#00f070" stroke-width="1.8" fill="none"/>
<rect x="696" y="668.6" width="4" height="4" fill="#00f070"/>
<path d="M698,674.9L668.2,689.9M668.2,689.9L663.3,680.3M672.4,687.8L667.6,678.1M676.7,685.6L673.8,679.8" stroke="#00f070" stroke-width="1.8" fill="none"/>
<rect x="696" y="672.9" width="4" height="4" fill="#00f070"/>
<path d="M698,678.8L668.7,694.8M668.7,694.8L663.5,685.3M672.9,692.5L667.7,683M677.1,690.2L674,684.5" stroke="#00f070" stroke-width="1.8" fill="none"/>
<rect x="696" y="676.8" width="4" height="4" fill="#00f070"/>
<path d="M698,682.4L669.2,699.4M669.2,699.4L663.7,690M673.4,696.9L667.9,687.6M677.5,694.5L674.2,688.9" stroke="#00f070" stroke-width="1.8" fill="none"/>
<rect x="696" y="680.4" width="4" height="4" fill="#00f070"/>
<path d="M698,685.8L669.8,703.7M669.8,703.7L664,694.6M673.9,701.1L668.1,692M677.9,698.6L674.4,693.1" stroke="#00f070" stroke-width="1.8" fill="none"/>
<rect x="696" y="683.8" width="4" height="4" fill="#00f070"/>
<path d="M698,689L670.4,707.8M670.4,707.8L664.3,698.9M674.4,705.1L668.3,696.2M678.3,702.4L674.7,697" stroke="#00f070" stroke-width="1.8" fill="none"/>
<rect x="696" y="687" width="4" height="4" fill="#00f070"/>
<path d="M698,692L671,711.7M671,711.7L664.7,703M674.9,708.9L668.5,700.2" stroke="#00f070" stroke-width="1.8" fill="none"/>
<rect x="696" y="690" width="4" height="4" fill="#00f070"/>
<path d="M698,694.8L671.7,715.4M671.7,715.4L665.1,706.9M675.5,712.4L668.8,703.9" stroke="#00f070" stroke-width="1.8" fill="none"/>
<rect x="696" y="692.8" width="4" height="4" fill="#00f070"/>
<path d="M698,697.4L672.4,718.9M672.4,718.9L665.5,710.6M676.1,715.8L669.1,707.5" stroke="#00f070" stroke-width="1.8" fill="none"/>
<rect x="696" y="695.4" width="4" height="4" fill="#00f070"/>
<path d="M698,699.8L673.1,722.1M673.1,722.1L665.9,714.1M676.7,718.9L669.5,710.9" stroke="#00f0a8" stroke-width="1.8" fill="none"/>
<rect x="696" y="697.8" width="4" height="4" fill="#00f0a8"/>
<path d="M698,702L673.9,725.1M673.9,725.1L666.4,717.3M677.4,721.8L669.9,714" stroke="#30e8e0" stroke-width="1.8" fill="none"/>
<rect x="696" y="700" width="4" height="4" fill="#30e8e0"/>
<path d="M698,704.2L674.7,728.1M674.7,728.1L666.9,720.6M678,724.7L670.3,717.1" stroke="#3070ff" stroke-width="1.8" fill="none"/>
<rect x="696" y="702.2" width="4" height="4" fill="#3070ff"/>
<path d="M681,712L698,696V704L676,727L664,716L663,700Z" fill="#00f070" fill-opacity="0.8"/>
<polyline points="698,699.5 677,720.5 664.5,709" fill="none" stroke="#00f0b0" stroke-width="3"/>
<polyline points="698,702 677,723.5 665,712.5" fill="none" stroke="#30e8e8" stroke-width="2.5"/>
<polyline points="698,705 676.5,727 665.5,716" fill="none" stroke="#3a6cff" stroke-width="3"/>
<defs><clipPath id="hb"><rect x="744" y="45" width="187" height="180"/></clipPath></defs>
<g clip-path="url(#hb)" fill="none" stroke="#000" stroke-width="1.3">
<ellipse cx="837.5" cy="135.3" rx="30.9" ry="30"/>
<ellipse cx="837.5" cy="135.3" rx="61.8" ry="59.9"/>
<ellipse cx="837.5" cy="135.3" rx="92.7" ry="89.9"/>
</g>
<path d="M744,135.3H931M837.5,45V225M755.1,132.9v4.8M835.1,55.4h4.8M765.4,132.9v4.8M835.1,65.4h4.8M775.7,132.9v4.8M835.1,75.4h4.8M786,132.9v4.8M835.1,85.3h4.8M796.3,132.9v4.8M835.1,95.3h4.8M806.6,132.9v4.8M835.1,105.3h4.8M816.9,132.9v4.8M835.1,115.3h4.8M827.2,132.9v4.8M835.1,125.3h4.8M847.8,132.9v4.8M835.1,145.3h4.8M858.1,132.9v4.8M835.1,155.3h4.8M868.4,132.9v4.8M835.1,165.3h4.8M878.7,132.9v4.8M835.1,175.3h4.8M889,132.9v4.8M835.1,185.3h4.8M899.3,132.9v4.8M835.1,195.2h4.8M909.6,132.9v4.8M835.1,205.2h4.8M919.9,132.9v4.8M835.1,215.2h4.8" stroke="#000" stroke-width="1.3" fill="none"/>
<rect x="744" y="45" width="187" height="180" fill="none" stroke="#000" stroke-width="2"/>
<text x="750" y="59.8" font-size="13.5" fill="#000" stroke="#fff" stroke-width="0.25" textLength="38" lengthAdjust="spacing">knots</text>
<text x="0" y="0" font-size="14" fill="#000" stroke="#fff" stroke-width="0.15" text-anchor="middle" transform="translate(815.7,156.5) rotate(-45) translate(0,5)" textLength="17" lengthAdjust="spacing">15</text>
<text x="0" y="0" font-size="14" fill="#000" stroke="#fff" stroke-width="0.15" text-anchor="middle" transform="translate(793.8,177.7) rotate(-45) translate(0,5)" textLength="17" lengthAdjust="spacing">30</text>
<text x="0" y="0" font-size="14" fill="#000" stroke="#fff" stroke-width="0.15" text-anchor="middle" transform="translate(772,198.9) rotate(-45) translate(0,5)" textLength="17" lengthAdjust="spacing">45</text>
<polyline points="842.9,130.3 859.6,115.3 875.4,100.4 880.7,97.3 885.1,96.9 892.1,99.1 896.5,103.5 899.1,106.5 901.8,103.9 906.2,105.7 906.2,110.5 910.6,116.2 908.8,118 905.3,115.3 901.8,110.5 899.1,106.5 896.5,111.4 896.5,116.6 900,121.9 904.4,125 910.6,125 915.8,121" fill="none" stroke="#00dd00" stroke-width="2.6" stroke-linejoin="round"/>
<circle cx="842.9" cy="130.3" r="2.3" fill="#00dd00"/><circle cx="915.8" cy="121" r="2.6" fill="#00dd00"/>
<path d="M837.5,135.3L902,155" stroke="#ff4040" stroke-width="1.4"/>
<path d="M910,157.5L898.5,161L901,151.5Z" fill="#ff4040"/>
<path d="M768,271H926.5V672.5H768Z M768,329.5H926.5 M768,456.5H926.5 M768,582.3H926.5" fill="none" stroke="#000" stroke-width="1.6"/>
<text x="773" y="289.4" font-size="14" fill="#000" stroke="#fff" stroke-width="0.22">K</text>
<path d="M872,284.8h9.5" stroke="#000" stroke-width="1.15"/>
<text x="883" y="289.4" font-size="14" fill="#000" stroke="#fff" stroke-width="0.22" textLength="18" lengthAdjust="spacing">15</text>
<text x="773" y="307.2" font-size="14" fill="#000" stroke="#fff" stroke-width="0.22">TT</text>
<text x="870.5" y="307.2" font-size="14" fill="#000" stroke="#fff" stroke-width="0.22" textLength="18.5" lengthAdjust="spacing">22</text>
<text x="773" y="321" font-size="14" fill="#000" stroke="#fff" stroke-width="0.22" textLength="64" lengthAdjust="spacing">PW (cm)</text>
<text x="870.5" y="321" font-size="14" fill="#000" stroke="#fff" stroke-width="0.22" textLength="32.5" lengthAdjust="spacing">0.78</text>
<text x="796" y="347.9" font-size="14" fill="#000" stroke="#fff" stroke-width="0.22" textLength="89" lengthAdjust="spacing">Lowest level</text>
<text x="773" y="370.7" font-size="14" fill="#000" stroke="#fff" stroke-width="0.22" textLength="84" lengthAdjust="spacing">Press (mb)</text>
<text x="870.5" y="370.7" font-size="14" fill="#000" stroke="#fff" stroke-width="0.22" textLength="41.5" lengthAdjust="spacing">987.5</text>
<text x="773" y="384" font-size="14" fill="#000" stroke="#fff" stroke-width="0.22" textLength="75.5" lengthAdjust="spacing">Temp (<tspan font-size="13" font-weight="bold">°</tspan>C)</text>
<path d="M872,379.4h9.5" stroke="#000" stroke-width="1.15"/>
<text x="883" y="384" font-size="14" fill="#000" stroke="#fff" stroke-width="0.22" textLength="22.5" lengthAdjust="spacing">5.7</text>
<text x="773" y="397.2" font-size="14" fill="#000" stroke="#fff" stroke-width="0.22" textLength="74" lengthAdjust="spacing">Dewp (<tspan font-size="13" font-weight="bold">°</tspan>C)</text>
<path d="M872,392.6h9.5" stroke="#000" stroke-width="1.15"/>
<text x="883" y="397.2" font-size="14" fill="#000" stroke="#fff" stroke-width="0.22" textLength="31.5" lengthAdjust="spacing">11.5</text>
<text x="773" y="411" font-size="14" fill="#000" stroke="#fff" stroke-width="0.22" textLength="42.5" lengthAdjust="spacing"><tspan font-weight="bold" font-style="italic">θ</tspan><tspan font-size="7" font-weight="bold" stroke="none">E</tspan> (K)</text>
<text x="870.5" y="411" font-size="14" fill="#000" stroke="#fff" stroke-width="0.22" textLength="41.5" lengthAdjust="spacing">272.5</text>
<text x="773" y="424.3" font-size="14" fill="#000" stroke="#fff" stroke-width="0.22" textLength="48.5" lengthAdjust="spacing">LI (<tspan font-size="13" font-weight="bold">°</tspan>C)</text>
<text x="870.5" y="424.3" font-size="14" fill="#000" stroke="#fff" stroke-width="0.22" textLength="32" lengthAdjust="spacing">35.0</text>
<text x="773" y="437.9" font-size="14" fill="#000" stroke="#fff" stroke-width="0.22" textLength="90.5" lengthAdjust="spacing">CAPE (Jkg<tspan font-size="8" dy="-5" stroke="none">-1</tspan><tspan dy="5">)</tspan></text>
<text x="870.5" y="437.9" font-size="14" fill="#000" stroke="#fff" stroke-width="0.22" textLength="9.5" lengthAdjust="spacing">0</text>
<text x="773" y="451.5" font-size="14" fill="#000" stroke="#fff" stroke-width="0.22" textLength="77.5" lengthAdjust="spacing">CIN (Jkg<tspan font-size="8" dy="-5" stroke="none">-1</tspan><tspan dy="5">)</tspan></text>
<text x="870.5" y="451.5" font-size="14" fill="#000" stroke="#fff" stroke-width="0.22" textLength="9.5" lengthAdjust="spacing">0</text>
<text x="773" y="497.1" font-size="14" fill="#000" stroke="#fff" stroke-width="0.22" textLength="84" lengthAdjust="spacing">Press (mb)</text>
<text x="870.5" y="497.1" font-size="14" fill="#000" stroke="#fff" stroke-width="0.22" textLength="41.5" lengthAdjust="spacing">791.6</text>
<text x="773" y="510.7" font-size="14" fill="#000" stroke="#fff" stroke-width="0.22" textLength="75.5" lengthAdjust="spacing">Temp (<tspan font-size="13" font-weight="bold">°</tspan>C)</text>
<path d="M872,506.1h9.5" stroke="#000" stroke-width="1.15"/>
<text x="883" y="510.7" font-size="14" fill="#000" stroke="#fff" stroke-width="0.22" textLength="22.5" lengthAdjust="spacing">5.7</text>
<text x="773" y="524.2" font-size="14" fill="#000" stroke="#fff" stroke-width="0.22" textLength="74" lengthAdjust="spacing">Dewp (<tspan font-size="13" font-weight="bold">°</tspan>C)</text>
<path d="M872,519.6h9.5" stroke="#000" stroke-width="1.15"/>
<text x="883" y="524.2" font-size="14" fill="#000" stroke="#fff" stroke-width="0.22" textLength="31.5" lengthAdjust="spacing">11.5</text>
<text x="773" y="537.9" font-size="14" fill="#000" stroke="#fff" stroke-width="0.22" textLength="42.5" lengthAdjust="spacing"><tspan font-weight="bold" font-style="italic">θ</tspan><tspan font-size="7" font-weight="bold" stroke="none">E</tspan> (K)</text>
<text x="870.5" y="537.9" font-size="14" fill="#000" stroke="#fff" stroke-width="0.22" textLength="41.5" lengthAdjust="spacing">302.4</text>
<text x="773" y="551.6" font-size="14" fill="#000" stroke="#fff" stroke-width="0.22" textLength="48.5" lengthAdjust="spacing">LI (<tspan font-size="13" font-weight="bold">°</tspan>C)</text>
<text x="870.5" y="551.6" font-size="14" fill="#000" stroke="#fff" stroke-width="0.22" textLength="31" lengthAdjust="spacing">13.1</text>
<text x="773" y="565.2" font-size="14" fill="#000" stroke="#fff" stroke-width="0.22" textLength="90.5" lengthAdjust="spacing">CAPE (Jkg<tspan font-size="8" dy="-5" stroke="none">-1</tspan><tspan dy="5">)</tspan></text>
<text x="870.5" y="565.2" font-size="14" fill="#000" stroke="#fff" stroke-width="0.22" textLength="9.5" lengthAdjust="spacing">0</text>
<text x="773" y="578.7" font-size="14" fill="#000" stroke="#fff" stroke-width="0.22" textLength="77.5" lengthAdjust="spacing">CIN (Jkg<tspan font-size="8" dy="-5" stroke="none">-1</tspan><tspan dy="5">)</tspan></text>
<text x="870.5" y="578.7" font-size="14" fill="#000" stroke="#fff" stroke-width="0.22" textLength="9.5" lengthAdjust="spacing">0</text>
<text x="792" y="474.6" font-size="14" fill="#000" stroke="#fff" stroke-width="0.22" textLength="104" lengthAdjust="spacing">Most Unstable</text>
<text x="806" y="596.6" font-size="14" fill="#000" stroke="#fff" stroke-width="0.22" textLength="77.5" lengthAdjust="spacing">Hodograph</text>
<text x="773" y="614.5" font-size="14" fill="#000" stroke="#fff" stroke-width="0.22" textLength="74" lengthAdjust="spacing">EH (Jkg<tspan font-size="8" dy="-5" stroke="none">-1</tspan><tspan dy="5">)</tspan></text>
<text x="871.5" y="614.5" font-size="14" fill="#000" stroke="#fff" stroke-width="0.22" textLength="25" lengthAdjust="spacing">151</text>
<text x="773" y="628.1" font-size="14" fill="#000" stroke="#fff" stroke-width="0.22" textLength="93" lengthAdjust="spacing">SREH (Jkg<tspan font-size="8" dy="-5" stroke="none">-1</tspan><tspan dy="5">)</tspan></text>
<text x="870.5" y="628.1" font-size="14" fill="#000" stroke="#fff" stroke-width="0.22" textLength="27.5" lengthAdjust="spacing">208</text>
<text x="773" y="650.6" font-size="14" fill="#000" stroke="#fff" stroke-width="0.22" textLength="75.5" lengthAdjust="spacing">StmDir (<tspan font-size="13" font-weight="bold">°</tspan>)</text>
<text x="870.5" y="650.6" font-size="14" fill="#000" stroke="#fff" stroke-width="0.22" textLength="27.5" lengthAdjust="spacing">287</text>
<text x="773" y="663.8" font-size="14" fill="#000" stroke="#fff" stroke-width="0.22" textLength="89.5" lengthAdjust="spacing">StmSpd (kt)</text>
<text x="870.5" y="663.8" font-size="14" fill="#000" stroke="#fff" stroke-width="0.22" textLength="18" lengthAdjust="spacing">36</text>
<text x="750.5" y="706" font-size="16.6" fill="#000" stroke="#fff" stroke-width="0.2" textLength="175" lengthAdjust="spacing">NCEP 1—Hr PType:</text>
<path d="M744,711.3H931.4" stroke="#000" stroke-width="1.6"/>
<text x="815.5" y="728.8" font-size="16.5" fill="#000" stroke="#fff" stroke-width="0.2" textLength="45.5" lengthAdjust="spacing">None</text>
<text x="806" y="749.8" font-size="13" fill="#000" textLength="64" lengthAdjust="spacing">(0" L.E.)</text>
</svg></body></html>
